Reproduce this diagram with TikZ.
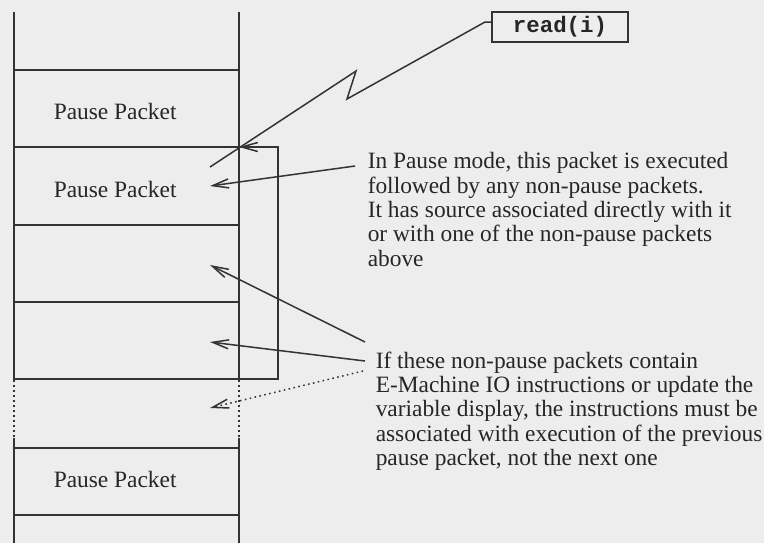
\documentclass[tikz,border=0pt]{standalone}
\usepackage{fontspec}
\setmainfont{Liberation Serif}
\setmonofont{Liberation Mono}
\usetikzlibrary{arrows.meta}

\begin{document}
\begin{tikzpicture}[x=0.5pt, y=-0.5pt, line width=0.75pt,
  every node/.style={inner sep=0pt, text=black!85},
  arr/.style={-{Straight Barb[length=8pt,width=4.5pt]}},
  dots/.style={dash pattern=on 0.8pt off 1.7pt},
  note/.style={anchor=north west, align=left, font=\fontsize{11.7}{12.15}\selectfont},
  pkt/.style={anchor=west, font=\fontsize{11.7}{14}\selectfont}]
\fill[black!7] (0,0) rectangle (764,543);
\useasboundingbox (0,0) rectangle (764,543);

\draw[black!80] (14,12) -- (14,380);
\draw[black!80, dots] (14,380) -- (14,438);
\draw[black!80] (14,438) -- (14,543);
\draw[black!80] (239,12) -- (239,380);
\draw[black!80, dots] (239,380) -- (239,438);
\draw[black!80] (239,438) -- (239,543);
\foreach \y in {70,147,225,302,379,448,515}
  \draw[black!80] (14,\y) -- (239,\y);

\node[pkt] (P1) at (53,111.5) {Pause Packet};
\node[pkt] (P2) at (53,189.5) {Pause Packet};
\node[pkt] (P3) at (53,479.5) {Pause Packet};

\node[draw=black!80, minimum width=68pt, minimum height=15pt,
  font=\ttfamily\bfseries\fontsize{11.2}{13}\selectfont] (R) at (560,27) {read(i)};

\node[note] (N1) at (367,152) {In Pause mode, this packet is executed\\
followed by any non-pause packets.\\
It has source associated directly with it\\
or with one of the non-pause packets\\
above};
\node[note] (N2) at (375,351) {If these non-pause packets contain\\
E-Machine IO instructions or update the\\
variable display, the instructions must be\\
associated with execution of the previous\\
pause packet, not the next one};

\coordinate (Rw) at (492,22);
\coordinate (Z1) at (485,22);
\coordinate (Z2) at (347,99);
\coordinate (Z3) at (356,71);
\coordinate (Z4) at (210,167);
\draw[black!80] (Rw) -- (Z1) -- (Z2) -- (Z3) -- (Z4);

\coordinate (B1) at (239,147);
\coordinate (B2) at (278,147);
\coordinate (B3) at (278,379);
\coordinate (B4) at (239,379);
\draw[black!80, arr, {Straight Barb[length=8pt,width=4.5pt]}-] (B1) -- (B2) -- (B3) -- (B4);

\coordinate (S1) at (355,166);
\coordinate (T1) at (210,186);
\draw[black!80, arr] (S1) -- (T1);

\coordinate (S2) at (365,342);
\coordinate (S3) at (365,361);
\coordinate (S4) at (363,371);
\coordinate (T2) at (210,265);
\coordinate (T3) at (210,342);
\coordinate (T4) at (210,408);
\draw[black!80, arr] (S2) -- (T2);
\draw[black!80, arr] (S3) -- (T3);
\draw[black!80, arr, dots] (S4) -- (T4);
\end{tikzpicture}
\end{document}
